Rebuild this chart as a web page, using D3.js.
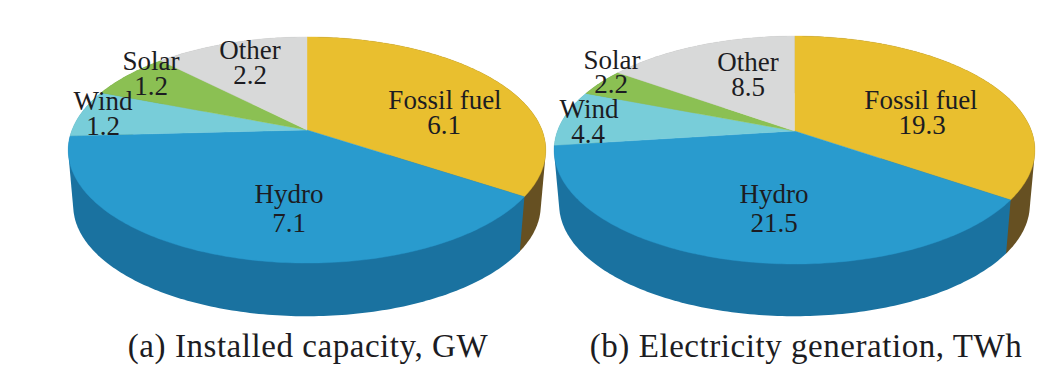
<!DOCTYPE html>
<html>
<head>
<meta charset="utf-8">
<script src="https://cdn.jsdelivr.net/npm/d3@7"></script>
<style>
html, body { margin: 0; padding: 0; background: #fff; }
svg { display: block; }
text { font-family: "Liberation Serif", serif; fill: #1c1c22; }
</style>
</head>
<body>
<div class="canvas"></div>
<script>
// Data
const categories = ['Fossil fuel', 'Hydro', 'Wind', 'Solar', 'Other'];
const capacityValues = [6.1, 7.1, 1.2, 1.2, 2.2];
const generationValues = [19.3, 21.5, 4.4, 2.2, 8.5];
const captions = ['(a) Installed capacity, GW', '(b) Electricity generation, TWh'];

// Styles, same order as the categories
const topColors = ['#e9bf2f', '#299bce', '#78cdd9', '#8bc053', '#d8d9d9'];
const sideColors = ['#665022', '#1a72a0', '#4d9aa5', '#5f8a35', '#a5a6a6'];

// Pie geometry. k is the perspective strength, so the apex sits above the ellipse centre
const leftPie = {
    cx: 307, cy: 130, rx: 235, ry: 109.5, k: 0.177, depth: 56, shrink: 0.979,
    // x and baseline of the name, then x and baseline of the value
    labels: [
        [445, 109, 444, 134],
        [289, 203, 289, 232],
        [103, 110, 103, 135],
        [151, 70, 151, 95],
        [250, 59, 250, 84]
    ],
    captionX: 308
};
const rightPie = {
    cx: 794.5, cy: 131, rx: 237, ry: 110.8, k: 0.167, depth: 55, shrink: 0.979,
    labels: [
        [921, 109, 922, 134],
        [774, 203, 774, 232],
        [589, 118, 588, 143],
        [612, 69, 611, 93],
        [748, 71, 748, 96]
    ],
    captionX: 806
};

const svg = d3.select('.canvas')
    .append('svg')
    .attr('width', 1057)
    .attr('height', 381);

const pie = d3.pie().sort(null).value(d => d);
const line = d3.line();

// perspective projection of a rim point, angle is clockwise from the top
const project = (g, angle, level) => {
    const u = Math.sin(angle);
    const v = -Math.cos(angle);
    const w = 1 - g.k * v;
    const s = level ? g.shrink : 1;
    return [
        g.cx + g.rx * s * u / w,
        g.cy + (level ? g.depth : 0) + g.ry * s * v / w
    ];
};

const rim = (g, a0, a1, level) => {
    const n = Math.max(2, Math.ceil((a1 - a0) * 60));
    return d3.range(n + 1).map(i => project(g, a0 + (a1 - a0) * i / n, level));
};

const drawPie = (g, values, caption) => {
    const group = svg.append('g');
    const arcs = pie(values);

    // how far towards the viewer a slice sits, walls are drawn back to front
    const front = d => -Math.cos((d.startAngle + d.endAngle) / 2);

    // side walls first, the hull keeps the outline tangent and the top covers the rest
    group.selectAll('path.side')
        .data(arcs.slice().sort((a, b) => front(a) - front(b)))
        .enter()
        .append('path')
        .attr('class', 'side')
        .attr('fill', d => sideColors[d.index])
        .attr('d', d => line(d3.polygonHull(rim(g, d.startAngle, d.endAngle, 0)
            .concat(rim(g, d.startAngle, d.endAngle, 1)))) + 'Z');

    group.selectAll('path.top')
        .data(arcs)
        .enter()
        .append('path')
        .attr('class', 'top')
        .attr('fill', (d, i) => topColors[i])
        .attr('stroke', (d, i) => topColors[i])
        .attr('stroke-width', 0.4)
        .attr('d', d => line([[g.cx, g.cy]].concat(rim(g, d.startAngle, d.endAngle, 0))) + 'Z');

    categories.forEach((name, i) => {
        const p = g.labels[i];
        group.append('text')
            .attr('x', p[0]).attr('y', p[1])
            .attr('text-anchor', 'middle')
            .attr('font-size', 27)
            .text(name);
        group.append('text')
            .attr('x', p[2]).attr('y', p[3])
            .attr('text-anchor', 'middle')
            .attr('font-size', 27)
            .text(values[i].toFixed(1));
    });

    group.append('text')
        .attr('x', g.captionX).attr('y', 357)
        .attr('text-anchor', 'middle')
        .attr('font-size', 33)
        .attr('letter-spacing', 0.55)
        .text(caption);
};

drawPie(leftPie, capacityValues, captions[0]);
drawPie(rightPie, generationValues, captions[1]);
</script>
</body>
</html>
